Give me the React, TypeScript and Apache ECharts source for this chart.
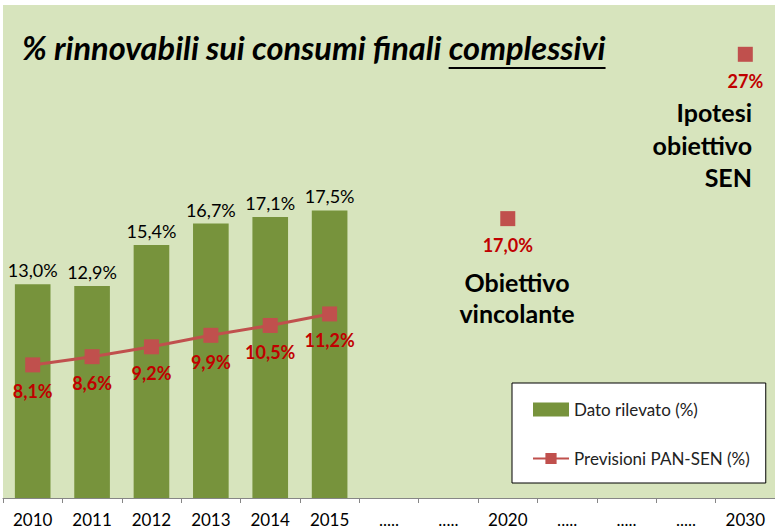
import React, { useEffect, useRef } from "react";
import * as echarts from "echarts";

const categories = ["2010", "2011", "2012", "2013", "2014", "2015", ".....", ".....", "2020", ".....", ".....", ".....", "2030"];
const datoRilevato = [13.0, 12.9, 15.4, 16.7, 17.1, 17.5, null, null, null, null, null, null, null];
const previsioni = [8.1, 8.6, 9.2, 9.9, 10.5, 11.2, null, null, 17.0, null, null, null, 27];
const previsioniDecimals = [1, 1, 1, 1, 1, 1, 1, 1, 1, 1, 1, 1, 0];
const titlePrefix = "% rinnovabili sui consumi finali ";
const titleUnderlined = "complessivi";
const noteVincolante = "Obiettivo\nvincolante";
const noteSen = "Ipotesi\nobiettivo\nSEN";

const FONT = "Lato, 'Open Sans', sans-serif";

function fmt(v: number, d: number) {
  return v.toFixed(d).replace(".", ",") + "%";
}

function measure(text: string, font: string) {
  const c = document.createElement("canvas");
  const ctx = c.getContext("2d");
  if (!ctx) return text.length * 15;
  ctx.font = font;
  return ctx.measureText(text).width;
}

export default function App() {
  const ref = useRef<HTMLDivElement>(null);
  useEffect(() => {
    if (!ref.current) return;
    const chart = echarts.init(ref.current, undefined, { renderer: "svg" });
    const titleFont = "italic bold 32.6px Lato";
    const titleX = 22;
    const prefixW = measure(titlePrefix, titleFont);
    const underW = measure(titleUnderlined, titleFont);
    chart.setOption({
      animation: false,
      backgroundColor: "#ffffff",
      textStyle: { fontFamily: FONT },
      grid: {
        left: 3,
        right: 0,
        top: 5,
        bottom: 33,
        show: true,
        backgroundColor: "#d7e4bd",
        borderWidth: 0,
        containLabel: false,
      },
      legend: {
        orient: "vertical",
        left: 512,
        top: 383,
        backgroundColor: "#ffffff",
        borderColor: "#000000",
        borderWidth: 1,
        borderRadius: 0,
        padding: [18, 16, 16, 20],
        itemGap: 32,
        itemWidth: 36,
        itemHeight: 14,
        textStyle: { fontFamily: FONT, fontSize: 17, color: "#222" },
        data: [
          { name: "Dato rilevato (%)", icon: "rect", itemStyle: { color: "#77933c" } },
          { name: "Previsioni PAN-SEN (%)" },
        ],
      },
      xAxis: {
        type: "category",
        data: categories,
        boundaryGap: true,
        axisLine: { lineStyle: { color: "#868686", width: 1 } },
        axisTick: { show: true, alignWithLabel: false, length: 5, lineStyle: { color: "#868686" } },
        axisLabel: { fontFamily: FONT, fontSize: 17, color: "#000", margin: 13, interval: 0 },
      },
      yAxis: {
        type: "value",
        min: 0,
        max: 30,
        show: false,
        splitLine: { show: false },
      },
      series: [
        {
          name: "Dato rilevato (%)",
          type: "bar",
          data: datoRilevato,
          barCategoryGap: "40%",
          itemStyle: { color: "#77933c" },
          label: {
            show: true,
            position: "top",
            distance: 5,
            fontFamily: FONT,
            fontSize: 18,
            color: "#000",
            formatter: (p: any) => fmt(p.value, 1),
          },
        },
        {
          name: "Previsioni PAN-SEN (%)",
          type: "line",
          data: previsioni,
          connectNulls: false,
          symbol: "rect",
          symbolSize: 15,
          showSymbol: true,
          lineStyle: { color: "#c0504d", width: 3 },
          itemStyle: { color: "#c0504d" },
          label: {
            show: true,
            position: "bottom",
            distance: 10,
            fontFamily: FONT,
            fontSize: 18,
            fontWeight: "bold",
            color: "#c00000",
            formatter: (p: any) => fmt(p.value, previsioniDecimals[p.dataIndex]),
          },
        },
      ],
      graphic: [
        {
          type: "text",
          x: titleX,
          y: 47,
          style: {
            text: titlePrefix + titleUnderlined,
            font: titleFont,
            fill: "#000",
            verticalAlign: "middle",
          },
        },
        {
          type: "line",
          shape: { x1: titleX + prefixW, y1: 68, x2: titleX + prefixW + underW, y2: 68 },
          style: { stroke: "#000", lineWidth: 2 },
        },
        {
          type: "text",
          x: 517,
          y: 266,
          style: {
            text: noteVincolante,
            font: "bold 25px Lato",
            fill: "#000",
            align: "center",
            lineHeight: 31,
          },
        },
        {
          type: "text",
          x: 752,
          y: 96,
          style: {
            text: noteSen,
            font: "bold 25px Lato",
            fill: "#000",
            align: "right",
            lineHeight: 32.5,
          },
        },
      ],
    });
    return () => chart.dispose();
  }, []);
  return <div ref={ref} style={{ position: "fixed", left: 0, top: 0, width: 775, height: 531 }} />;
}
